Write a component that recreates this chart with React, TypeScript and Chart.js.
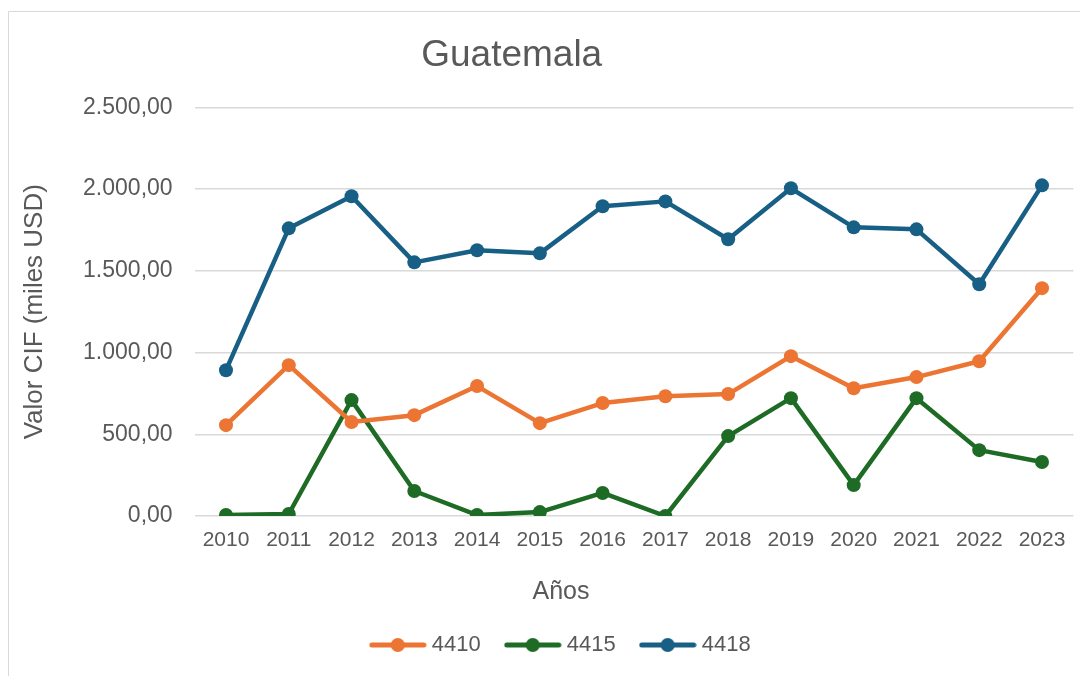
import React, { useEffect, useRef } from 'react';
import { Chart, registerables } from 'chart.js';

Chart.register(...registerables);

const years = ['2010', '2011', '2012', '2013', '2014', '2015', '2016', '2017', '2018', '2019', '2020', '2021', '2022', '2023'];
const s4410 = [556, 923, 575, 617, 795, 568, 691, 733, 746, 978, 782, 850, 947, 1394];
const s4415 = [6, 12, 709, 153, 6, 24, 141, 0, 489, 721, 189, 721, 403, 330];
const s4418 = [892, 1760, 1956, 1552, 1626, 1607, 1895, 1925, 1693, 2005, 1766, 1754, 1418, 2023];
const seriesNames = ['4410', '4415', '4418'];
const seriesColors = ['#EC7534', '#1D6B24', '#185F85'];
const yMin = 0;
const yMax = 2500;
const yStep = 500;

const FONT = "'Liberation Sans', Arial, sans-serif";
const TEXT = '#595959';

function fmt(v: number): string {
  const neg = v < 0;
  const n = Math.abs(Math.round(v));
  const s = String(n).replace(/\B(?=(\d{3})+(?!\d))/g, '.');
  return (neg ? '-' : '') + s + ',00';
}

function legendImage(color: string): HTMLCanvasElement {
  const c = document.createElement('canvas');
  c.width = 58;
  c.height = 16;
  const ctx = c.getContext('2d')!;
  ctx.strokeStyle = color;
  ctx.lineWidth = 5;
  ctx.lineCap = 'round';
  ctx.beginPath();
  ctx.moveTo(3, 8);
  ctx.lineTo(55, 8);
  ctx.stroke();
  ctx.fillStyle = color;
  ctx.beginPath();
  ctx.arc(29, 8, 7, 0, Math.PI * 2);
  ctx.fill();
  return c;
}

export default function App() {
  const ref = useRef<HTMLCanvasElement | null>(null);

  useEffect(() => {
    if (!ref.current) return;
    const allSeries = [s4410, s4415, s4418];
    const images = seriesColors.map(legendImage);

    const framePlugin = {
      id: 'frame',
      afterLayout(chart: any) {
        if (chart.titleBlock) {
          chart.titleBlock.left -= 29;
          chart.titleBlock.right -= 29;
        }
        if (chart.legend) {
          chart.legend.left += 22;
          chart.legend.right += 22;
        }
        const sx = chart.scales.x;
        if (sx && !sx.__shifted) {
          sx.__shifted = true;
          const orig = sx.drawTitle;
          sx.drawTitle = function (...args: any[]) {
            const l = this.left;
            const r = this.right;
            this.left -= 73;
            this.right -= 73;
            orig.apply(this, args);
            this.left = l;
            this.right = r;
          };
        }
      },
      beforeDraw(chart: any) {
        const ctx = chart.ctx;
        ctx.save();
        ctx.strokeStyle = '#d9d9d9';
        ctx.lineWidth = 1;
        ctx.beginPath();
        ctx.moveTo(0.5, chart.height);
        ctx.lineTo(0.5, 3.5);
        ctx.lineTo(chart.width, 3.5);
        ctx.stroke();
        ctx.restore();
      },
    };

    const chart = new Chart(ref.current, {
      type: 'line',
      data: {
        labels: years,
        datasets: allSeries.map((d, i) => ({
          label: seriesNames[i],
          data: d,
          borderColor: seriesColors[i],
          backgroundColor: seriesColors[i],
          borderWidth: 4.5,
          pointRadius: 7,
          pointHoverRadius: 7,
          pointBorderWidth: 0,
          pointStyle: 'circle',
          tension: 0,
          fill: false,
          borderJoinStyle: 'round' as const,
        })),
      },
      options: {
        animation: false,
        responsive: false,
        layout: { padding: { left: 0, right: 14.6, top: 0, bottom: 10 } },
        plugins: {
          title: {
            display: true,
            text: 'Guatemala',
            color: TEXT,
            font: { family: FONT, size: 37, weight: 'normal', lineHeight: 1.2 },
            padding: { top: 26, bottom: 29 },
          },
          legend: {
            display: true,
            position: 'bottom',
            labels: {
              usePointStyle: true,
              pointStyleWidth: 46,
              padding: 29,
              color: TEXT,
              font: { family: FONT, size: 22 },
              generateLabels: (chart: any) =>
                chart.data.datasets.map((ds: any, i: number) => ({
                  text: ds.label,
                  fillStyle: seriesColors[i],
                  strokeStyle: seriesColors[i],
                  lineWidth: 0,
                  pointStyle: images[i],
                  fontColor: TEXT,
                  hidden: false,
                  datasetIndex: i,
                })),
            },
          },
          tooltip: { enabled: false },
        },
        scales: {
          x: {
            offset: true,
            grid: { display: false, drawTicks: false },
            border: { display: false },
            ticks: {
              color: TEXT,
              font: { family: FONT, size: 21, lineHeight: 1.2 },
              padding: 12,
              maxRotation: 0,
              autoSkip: false,
            },
            title: {
              display: true,
              text: 'Años',
              color: TEXT,
              font: { family: FONT, size: 25, lineHeight: 1 },
              padding: { top: 0, bottom: 0 },
            },
            afterFit: (scale: any) => {
              scale.height = 89;
            },
          },
          y: {
            min: yMin,
            max: yMax,
            grid: { color: '#d9d9d9', lineWidth: 1.5, drawTicks: false },
            border: { display: false },
            ticks: {
              stepSize: yStep,
              color: TEXT,
              font: { family: FONT, size: 23 },
              padding: 22,
              callback: (v: any) => fmt(Number(v)),
            },
            title: {
              display: true,
              text: 'Valor CIF (miles USD)',
              color: TEXT,
              font: { family: FONT, size: 26, lineHeight: 1.2 },
              padding: { top: 11, bottom: 0 },
            },
            afterFit: (scale: any) => {
              scale.width = 186.6;
            },
          },
        },
      },
      plugins: [framePlugin],
    } as any);

    return () => chart.destroy();
  }, []);

  return <canvas ref={ref} width={1080} height={668} style={{ display: 'block', width: 1080, height: 668 }} />;
}
